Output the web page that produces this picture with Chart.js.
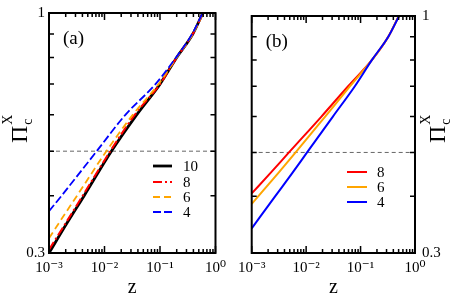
<!DOCTYPE html>
<html>
<head>
<meta charset="utf-8">
<script src="https://cdn.jsdelivr.net/npm/chart.js@4.4.0/dist/chart.umd.min.js"></script>
<style>
  html, body { margin: 0; padding: 0; background: #fff; }
  #wrap { position: relative; width: 463px; height: 302px; }
  #chartA { position: absolute; left: 0; top: 0; }
  #chartB { position: absolute; left: 232px; top: 0; }
</style>
</head>
<body>
<div id="wrap">
  <canvas id="chartA" width="232" height="302"></canvas>
  <canvas id="chartB" width="231" height="302"></canvas>
</div>
<script>
const xTickValues = [0.001, 0.01, 0.1, 1];
const xTickLabels = ['10⁻³', '10⁻²', '10⁻¹', '10⁰'];
const yTickValues = [0.3, 1];
const yTickLabels = ['0.3', '1'];
const yMinorTicks = [0.4, 0.5, 0.6, 0.7, 0.8, 0.9];
const refLevel = 0.5;

// panel (a)
const seriesA = ['10', '8', '6', '4'];
const zA10 = [0.001, 0.00215, 0.0043, 0.0133, 0.0379, 0.1, 0.2, 0.39, 0.59];
const vA10 = [0.30, 0.35, 0.40, 0.50, 0.60, 0.70, 0.80, 0.90, 1.0];
const zA8 = [0.001, 0.00204, 0.00405, 0.0127, 0.035, 0.1, 0.2, 0.39, 0.6];
const vA8 = [0.305, 0.35, 0.40, 0.50, 0.60, 0.70, 0.80, 0.90, 1.0];
const zA6 = [0.001, 0.00154, 0.0032, 0.0108, 0.0323, 0.094, 0.2, 0.39, 0.6];
const vA6 = [0.323, 0.35, 0.40, 0.50, 0.60, 0.70, 0.80, 0.90, 1.0];
const zA4 = [0.001, 0.00169, 0.00724, 0.0238, 0.083, 0.195, 0.38, 0.59];
const vA4 = [0.370, 0.40, 0.50, 0.60, 0.70, 0.80, 0.90, 1.0];

// panel (b)
const seriesB = ['8', '6', '4'];
const zB8 = [0.001, 0.0022, 0.00483, 0.0191, 0.0591, 0.162, 0.323, 0.504];
const vB8 = [0.406, 0.45, 0.50, 0.60, 0.70, 0.80, 0.90, 1.0];
const zB6 = [0.001, 0.00307, 0.00641, 0.0224, 0.0641, 0.162, 0.323, 0.504];
const vB6 = [0.385, 0.45, 0.50, 0.60, 0.70, 0.80, 0.90, 1.0];
const zB4 = [0.001, 0.00269, 0.00555, 0.0104, 0.031, 0.0785, 0.162, 0.323, 0.51];
const vB4 = [0.34, 0.40, 0.45, 0.50, 0.60, 0.70, 0.80, 0.90, 1.0];

const SERIF = '"Liberation Serif", "DejaVu Serif", serif';

function pts(zs, vs) {
  return zs.map((z, i) => ({ x: z, y: vs[i] }));
}

function line(label, zs, vs, color, width, dash, order) {
  return {
    label: label, data: pts(zs, vs),
    borderColor: color, backgroundColor: color,
    borderWidth: width, borderDash: dash,
    pointRadius: 0, fill: false, order: order,
    cubicInterpolationMode: 'monotone'
  };
}

// frame, inward ticks, reference line, panel label, legend, y title
const decor = {
  id: 'decor',
  beforeDatasetsDraw(chart) {
    const { ctx, chartArea: a, scales: { y } } = chart;
    const py = y.getPixelForValue(refLevel);
    ctx.save();
    ctx.strokeStyle = '#666';
    ctx.lineWidth = 1;
    ctx.setLineDash([4, 3]);
    ctx.beginPath();
    ctx.moveTo(a.left, py);
    ctx.lineTo(a.right, py);
    ctx.stroke();
    ctx.restore();
  },
  afterDraw(chart, args, o) {
    const { ctx, chartArea: a, scales: { x, y } } = chart;
    ctx.save();
    ctx.strokeStyle = '#000';
    ctx.lineWidth = 2;
    ctx.strokeRect(a.left, a.top, a.right - a.left, a.bottom - a.top);

    // x ticks, top and bottom
    ctx.lineWidth = 1.5;
    ctx.beginPath();
    for (let d = 0; d < xTickValues.length; d++) {
      const base = xTickValues[d];
      for (let m = 1; m <= 9; m++) {
        const v = base * m;
        if (v > 1.0001) break;
        const px = x.getPixelForValue(v);
        const len = m === 1 ? 7 : 4;
        ctx.moveTo(px, a.bottom); ctx.lineTo(px, a.bottom - len);
        ctx.moveTo(px, a.top); ctx.lineTo(px, a.top + len);
      }
    }
    // y ticks, both sides
    yMinorTicks.forEach(v => {
      const py = y.getPixelForValue(v);
      ctx.moveTo(a.left, py); ctx.lineTo(a.left + 5, py);
      ctx.moveTo(a.right, py); ctx.lineTo(a.right - 5, py);
    });
    ctx.stroke();

    // panel letter
    ctx.fillStyle = '#000';
    ctx.font = '19px ' + SERIF;
    ctx.textBaseline = 'alphabetic';
    ctx.textAlign = 'left';
    ctx.fillText(o.tag, a.left + 14, a.top + 31);

    // legend
    const lg = o.legend;
    ctx.font = '15px ' + SERIF;
    ctx.textBaseline = 'middle';
    lg.order.forEach((di, r) => {
      const ds = chart.data.datasets[di];
      const ly = lg.rows[r];
      ctx.strokeStyle = ds.borderColor;
      ctx.lineWidth = ds.borderWidth;
      ctx.setLineDash(ds.borderDash || []);
      ctx.beginPath();
      ctx.moveTo(lg.x0, ly);
      ctx.lineTo(lg.x1, ly);
      ctx.stroke();
      ctx.setLineDash([]);
      ctx.fillText(ds.label, lg.tx, ly + 1);
    });

    // y title  Π_c^X, reading bottom to top
    ctx.translate(o.titleX, 143);
    ctx.rotate(-Math.PI / 2);
    ctx.textBaseline = 'alphabetic';
    ctx.font = '24px ' + SERIF;
    ctx.fillText('Π', 0, 0);
    const w = ctx.measureText('Π').width;
    ctx.font = '14px ' + SERIF;
    ctx.fillText('c', w + 1, 5);
    ctx.fillText('X', w + 1, -15);
    ctx.restore();
  }
};

function xScale() {
  return {
    type: 'logarithmic', min: 0.001, max: 1,
    grid: { display: false, drawTicks: false },
    border: { display: false },
    afterBuildTicks: s => { s.ticks = xTickValues.map(v => ({ value: v })); },
    afterFit: s => { s.height = 49; },
    ticks: {
      autoSkip: false, maxRotation: 0, padding: 6, color: '#000',
      font: { family: SERIF, size: 15 },
      callback: v => xTickLabels[xTickValues.indexOf(v)]
    },
    title: {
      display: true, text: 'z', color: '#000',
      font: { family: SERIF, size: 20 }, padding: { top: 0, bottom: 2 }
    }
  };
}

function yScale(pos, width) {
  return {
    type: 'logarithmic', position: pos, min: 0.3, max: 1,
    grid: { display: false, drawTicks: false },
    border: { display: false },
    afterBuildTicks: s => { s.ticks = yTickValues.map(v => ({ value: v })); },
    afterFit: s => { s.width = width; },
    ticks: {
      autoSkip: false, padding: pos === 'left' ? 4 : 7, color: '#000',
      font: { family: SERIF, size: 15 },
      callback: v => yTickLabels[yTickValues.indexOf(v)]
    }
  };
}

const common = {
  responsive: false,
  animation: false,
  plugins: { legend: { display: false }, tooltip: { enabled: false } }
};

new Chart(document.getElementById('chartA'), {
  type: 'line',
  data: {
    datasets: [
      line(seriesA[0], zA10, vA10, '#000000', 2.8, [], 4),
      line(seriesA[1], zA8, vA8, '#ff0000', 2, [9, 3, 2, 3], 3),
      line(seriesA[2], zA6, vA6, '#ffa500', 1.8, [7, 4], 2),
      line(seriesA[3], zA4, vA4, '#0000ff', 1.8, [8, 3], 1)
    ]
  },
  options: Object.assign({}, common, {
    layout: { padding: { top: 10, right: 12, left: 0, bottom: 0 } },
    scales: { x: xScale(), y: yScale('left', 49) },
    plugins: Object.assign({}, common.plugins, {
      decor: {
        tag: '(a)', titleX: 27,
        legend: { order: [0, 1, 2, 3], x0: 153, x1: 172, tx: 183, rows: [166, 182, 197, 212] }
      }
    })
  }),
  plugins: [decor]
});

new Chart(document.getElementById('chartB'), {
  type: 'line',
  data: {
    datasets: [
      line(seriesB[0], zB8, vB8, '#ff0000', 2, [], 3),
      line(seriesB[1], zB6, vB6, '#ffa500', 2, [], 2),
      line(seriesB[2], zB4, vB4, '#0000ff', 2, [], 1)
    ]
  },
  options: Object.assign({}, common, {
    layout: { padding: { top: 10, right: 0, left: 12, bottom: 0 } },
    scales: { x: xScale(), y: yScale('right', 48) },
    plugins: Object.assign({}, common.plugins, {
      decor: {
        tag: '(b)', titleX: 445 - 232,
        legend: { order: [0, 1, 2], x0: 347 - 232, x1: 367 - 232, tx: 377 - 232, rows: [172, 187, 202] }
      }
    })
  }),
  plugins: [decor]
});
</script>
</body>
</html>
